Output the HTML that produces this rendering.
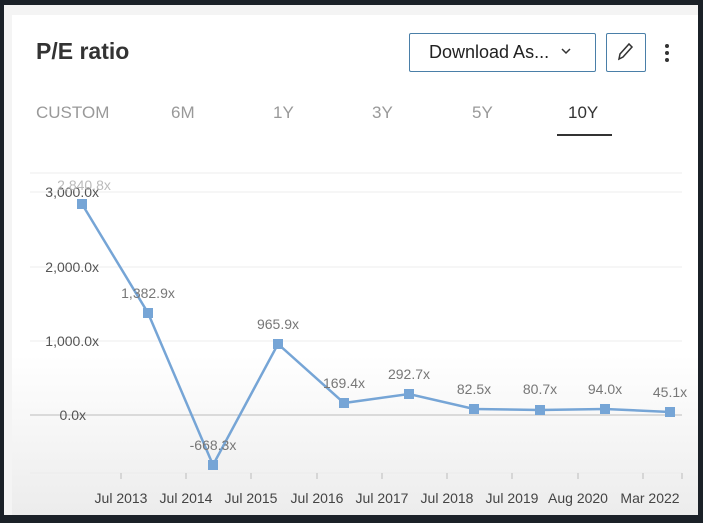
<!DOCTYPE html>
<html><head><style>
body{margin:0;width:703px;height:523px;background:#1b2128;overflow:hidden;font-family:"Liberation Sans",sans-serif;}
.card{position:absolute;left:4px;top:5px;width:694px;height:510px;background:#f4f4f4;}
.inner{position:absolute;left:12px;top:15px;width:686px;height:500px;background:linear-gradient(#fff 0,#fff 340px,#ececec 500px);}
.t{position:absolute;white-space:nowrap;}
</style></head><body>
<div class="card"></div>
<div class="inner"></div>
<div class="t" style="left:36px;top:38px;font-size:23px;font-weight:bold;color:#333;">P/E ratio</div>
<div style="position:absolute;left:409px;top:33px;width:185px;height:37px;border:1px solid #4a7fa8;border-radius:2px;background:#fff;"></div>
<div class="t" style="left:429px;top:42px;font-size:18px;color:#222;">Download As...</div>
<svg style="position:absolute;left:560px;top:47px" width="12" height="8"><path d="M2 2 L6 6 L10 2" stroke="#333" stroke-width="1.5" fill="none"/></svg>
<div style="position:absolute;left:606px;top:33px;width:38px;height:37px;border:1px solid #4a7fa8;border-radius:2px;background:#fff;"></div>
<svg style="position:absolute;left:615px;top:41px" width="20" height="22"><path d="M4 18 L5 13 L14 3 L17 6 L8 16 Z" stroke="#333" stroke-width="1.5" fill="none"/></svg>
<div style="position:absolute;left:665px;top:44px;width:4px;height:4px;border-radius:2px;background:#333;box-shadow:0 7px 0 #333,0 14px 0 #333;"></div>
<div class="t" style="left:36px;top:103px;font-size:17px;color:#999;">CUSTOM</div>
<div class="t" style="left:171px;top:103px;font-size:17px;color:#999;">6M</div>
<div class="t" style="left:273px;top:103px;font-size:17px;color:#999;">1Y</div>
<div class="t" style="left:372px;top:103px;font-size:17px;color:#999;">3Y</div>
<div class="t" style="left:472px;top:103px;font-size:17px;color:#999;">5Y</div>
<div class="t" style="left:568px;top:103px;font-size:17px;color:#333;">10Y</div>
<div style="position:absolute;left:557px;top:134px;width:55px;height:2px;background:#333;"></div>
<svg style="position:absolute;left:0;top:0" width="703" height="523" font-family="Liberation Sans" font-size="13">
<g stroke="#ececec" stroke-width="1">
<line x1="30" y1="173" x2="682" y2="173"/><line x1="30" y1="192" x2="682" y2="192"/>
<line x1="30" y1="267" x2="682" y2="267"/><line x1="30" y1="341" x2="682" y2="341"/>
<line x1="30" y1="473" x2="682" y2="473"/></g>
<line x1="30" y1="415" x2="682" y2="415" stroke="#bbb"/>
<g stroke="#bbb"><line x1="121" y1="473" x2="121" y2="479"/><line x1="186" y1="473" x2="186" y2="479"/><line x1="251" y1="473" x2="251" y2="479"/><line x1="317" y1="473" x2="317" y2="479"/><line x1="382" y1="473" x2="382" y2="479"/><line x1="447" y1="473" x2="447" y2="479"/><line x1="512" y1="473" x2="512" y2="479"/><line x1="578" y1="473" x2="578" y2="479"/><line x1="643" y1="473" x2="643" y2="479"/><line x1="682" y1="473" x2="682" y2="479"/></g>
<g fill="#555" font-size="14" text-anchor="end">
<text x="99" y="197">3,000.0x</text><text x="99" y="272">2,000.0x</text><text x="99" y="346">1,000.0x</text><text x="86" y="420">0.0x</text></g>
<g fill="#444" font-size="14" text-anchor="middle">
<text x="121" y="503">Jul 2013</text><text x="186" y="503">Jul 2014</text><text x="251" y="503">Jul 2015</text><text x="317" y="503">Jul 2016</text><text x="382" y="503">Jul 2017</text><text x="447" y="503">Jul 2018</text><text x="512" y="503">Jul 2019</text><text x="578" y="503">Aug 2020</text><text x="650" y="503">Mar 2022</text></g>
<polyline fill="none" stroke="#76a5d6" stroke-width="2.5" points="82,204 148,313 213,465 278,344 344,403 409,394 474,409 540,410 605,409 670,412"/>
<g fill="#76a5d6">
<rect x="77" y="199" width="10" height="10"/><rect x="143" y="308" width="10" height="10"/><rect x="208" y="460" width="10" height="10"/><rect x="273" y="339" width="10" height="10"/><rect x="339" y="398" width="10" height="10"/><rect x="404" y="389" width="10" height="10"/><rect x="469" y="404" width="10" height="10"/><rect x="535" y="405" width="10" height="10"/><rect x="600" y="404" width="10" height="10"/><rect x="665" y="407" width="10" height="10"/></g>
<g fill="#777" font-size="14" text-anchor="middle">
<text x="84" y="190" fill="#bbb">2,840.8x</text><text x="148" y="298">1,382.9x</text><text x="213" y="450">-668.3x</text><text x="278" y="329">965.9x</text><text x="344" y="388">169.4x</text><text x="409" y="379">292.7x</text><text x="474" y="394">82.5x</text><text x="540" y="394">80.7x</text><text x="605" y="394">94.0x</text><text x="670" y="397">45.1x</text></g>
</svg>
<div style="position:absolute;left:698px;top:0;width:5px;height:523px;background:#1b2128;"></div>
</body></html>
